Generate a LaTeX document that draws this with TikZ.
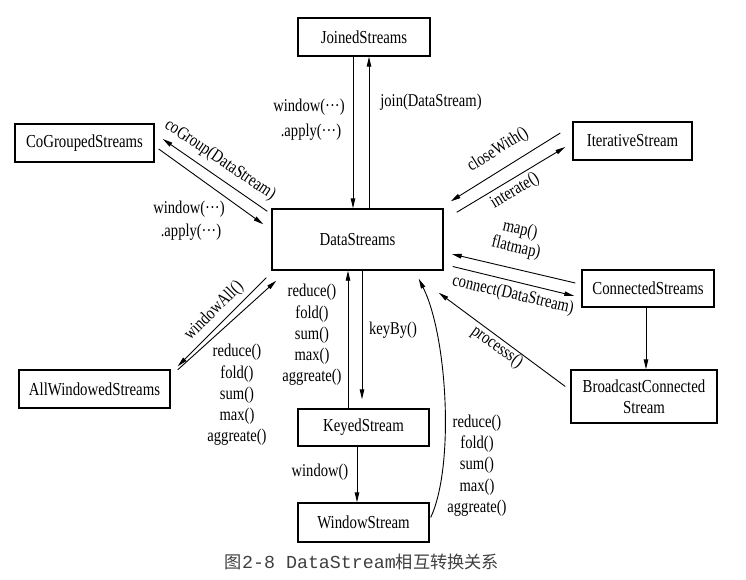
\documentclass[tikz,border=0pt]{standalone}
\usepackage{fontspec}
\setmainfont{Liberation Serif}[FakeStretch=0.81]
\newfontfamily\capmono{Liberation Mono}
\newfontfamily\cjk{Noto Sans CJK SC}
\usetikzlibrary{arrows.meta,calc}
\begin{document}
\begin{tikzpicture}[x=1pt,y=-1pt,
  box/.style={draw,line width=1.4pt,inner sep=0pt,align=center,font=\fontsize{18.3}{21}\selectfont},
  lbl/.style={inner sep=0pt,align=center,font=\fontsize{18}{21.2}\selectfont},
  arr/.style={line width=0.9pt,-{Triangle[length=10pt,width=4.5pt]}}]
\useasboundingbox[fill=white] (0,0) rectangle (746,580);
% boxes
\node[box,minimum width=132pt,minimum height=38pt] (js) at (364,37) {JoinedStreams};
\node[box,minimum width=139pt,minimum height=38pt] (cg) at (84.5,143) {CoGroupedStreams};
\node[box,minimum width=171pt,minimum height=61pt] (ds) at (357.5,239.5) {DataStreams};
\node[box,minimum width=119pt,minimum height=38pt] (it) at (632.5,141) {IterativeStream};
\node[box,minimum width=132pt,minimum height=37pt] (cs) at (648,288.5) {ConnectedStreams};
\node[box,minimum width=146pt,minimum height=53pt] (bc) at (644,396.5) {BroadcastConnected\\Stream};
\node[box,minimum width=151pt,minimum height=38pt] (aw) at (94.5,389) {AllWindowedStreams};
\node[box,minimum width=131pt,minimum height=37pt] (ks) at (363.5,427.5) {KeyedStream};
\node[box,minimum width=131pt,minimum height=39pt] (ws) at (363.5,522.5) {WindowStream};
% JoinedStreams <-> DataStreams
\draw[arr] ([xshift=-11pt]js.south) -- ([xshift=-4.5pt]ds.north);
\draw[arr] ([xshift=11.5pt]ds.north) -- ([xshift=5pt]js.south);
\node[lbl] (l1) at (309,107) {window(···)};
\node[lbl] (l2) at (311,132) {.apply(···)};
\node[lbl] (l3) at (431,102) {join(DataStream)};
% CoGroupedStreams <-> DataStreams
\draw[arr] ([shift={(-4,3)}]ds.north west) -- ([shift={(8,-4)}]cg.east);
\draw[arr] ([shift={(4,6)}]cg.east) -- ([shift={(-8,16)}]ds.north west);
\node[lbl,rotate=-34] (l4) at (220,160) {coGroup(DataStream)};
\node[lbl] (l5) at (189,209) {window(···)};
\node[lbl] (l6) at (191,232) {.apply(···)};
% IterativeStream <-> DataStreams
\draw[arr] ([shift={(-12,-8)}]it.west) -- ([shift={(7,-7)}]ds.north east);
\draw[arr] ([shift={(13,4)}]ds.north east) -- ([shift={(-7,6)}]it.west);
\node[lbl,rotate=32] (l7) at (498,150) {closeWith()};
\node[lbl,rotate=31] (l8) at (515,191) {interate()};
% ConnectedStreams <-> DataStreams
\draw[arr] ([shift={(-6,-5.5)}]cs.west) -- ([shift={(8,14.5)}]ds.east);
\draw[arr] ([shift={(9,27)}]ds.east) -- ([shift={(-7,7.5)}]cs.west);
\node[lbl,rotate=-13] (l9) at (520,230) {map()};
\node[lbl,rotate=-13] (l10) at (516,248) {flatmap)};
\node[lbl,rotate=-13] (l11) at (513,295) {connect(DataStream)};
% ConnectedStreams -> BroadcastConnectedStream
\draw[arr] ([xshift=-2pt]cs.south) -- ([xshift=2pt]bc.north);
% BroadcastConnectedStream -> DataStreams
\draw[arr] ([shift={(-5,-10)}]bc.west) -- ([shift={(-5,22)}]ds.south east);
\node[lbl,rotate=-36] (l12) at (497,347) {processs()};
% AllWindowedStreams <-> DataStreams
\draw[arr] ([shift={(-5,7)}]ds.south west) -- ([shift={(7,-3)}]aw.north east);
\draw[arr] ([shift={(7,0.5)}]aw.north east) -- ([shift={(5,10)}]ds.south west);
\node[lbl,rotate=45] (l13) at (214,311) {windowAll()};
\node[lbl] (l14) at (237,395) {reduce()\\fold()\\sum()\\max()\\aggreate()};
% DataStreams <-> KeyedStream
\draw[arr] ([xshift=-15.5pt]ks.north) -- ([xshift=-9.5pt]ds.south);
\draw[arr] ([xshift=4.5pt]ds.south) -- ([xshift=-1.5pt,yshift=9pt]ks.north);
\node[lbl] (l15) at (312,335) {reduce()\\fold()\\sum()\\max()\\aggreate()};
\node[lbl] (l16) at (393,330) {keyBy()};
% KeyedStream -> WindowStream
\draw[arr] ([xshift=-6.5pt]ks.south) -- ([xshift=-6.5pt]ws.north);
\node[lbl] (l17) at (320,472) {window()};
% WindowStream -> DataStreams
\draw[arr] ([shift={(1,-5)}]ws.east) .. controls (455,465) and (447,335) .. ([shift={(-25,8)}]ds.south east);
\node[lbl] (l18) at (477,465.5) {reduce()\\fold()\\sum()\\max()\\aggreate()};
% caption
\node[inner sep=0pt,text=black!75] (cap) at (362,562) {{\cjk\fontsize{17.2}{20}\selectfont 图}{\capmono\fontsize{18.3}{20}\selectfont 2-8 DataStream}{\cjk\fontsize{17.2}{20}\selectfont 相互转换关系}};
\end{tikzpicture}
\end{document}
